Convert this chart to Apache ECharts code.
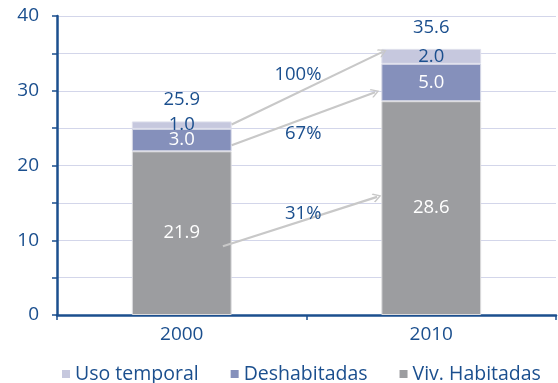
<!DOCTYPE html>
<html>
<head>
<meta charset="utf-8">
<script src="https://cdn.jsdelivr.net/npm/echarts@6/dist/echarts.min.js"></script>
<style>
  html, body { margin: 0; padding: 0; background: #fff; }
  #chart { width: 558px; height: 383px; }
</style>
</head>
<body>
<div id="chart"></div>
<script>
// Viviendas por uso (millones), 2000 y 2010
const years = ['2000', '2010'];
const usoTemporal = [1.0, 2.0];
const deshabitadas = [3.0, 5.0];
const habitadas = [21.9, 28.6];
const yTicks = [0, 10, 20, 30, 40];

// Growth arrows between the two years: [x, y] on a 0..2 category span
const growthLabels = ['100%', '67%', '31%'];
const growthFrom = [[0.70, 25.5], [0.70, 22.7], [0.665, 9.2]];
const growthTo = [[1.305, 35.2], [1.275, 29.8], [1.283, 15.8]];
const growthLabelAt = [[1.06, 32.1], [1.06, 24.2], [1.06, 13.6]];

const totals = years.map((_, i) => +(habitadas[i] + deshabitadas[i] + usoTemporal[i]).toFixed(1));

const BLUE = '#1b4f8e';
const FONT = 'Open Sans';

const chart = echarts.init(document.getElementById('chart'), null, { renderer: 'canvas' });

// open arrowhead drawn as a thin chevron pointing along the line
const chevron = 'path://M0,0 L10,9 L8.4,10.6 L0,3 L-8.4,10.6 L-10,9 Z';

const barBase = {
  type: 'bar',
  stack: 'total',
  barWidth: '40%',
  xAxisIndex: 0,
  yAxisIndex: 0
};

const valueLabel = (color) => ({
  show: true, position: 'inside', color: color, fontSize: 18.5, fontFamily: FONT,
  formatter: p => p.value.toFixed(1)
});

chart.setOption({
  animation: false,
  textStyle: { fontFamily: FONT },
  grid: { left: 57, right: 2, top: 16, bottom: 68, containLabel: false },
  legend: {
    left: 57,
    top: 359,
    icon: 'rect',
    itemWidth: 8,
    itemHeight: 8,
    itemGap: 32,
    itemStyle: { borderWidth: 0 },
    textStyle: { color: BLUE, fontSize: 19.5, fontFamily: FONT },
    data: ['Uso temporal', 'Deshabitadas', 'Viv. Habitadas']
  },
  xAxis: [
    {
      type: 'category',
      data: years,
      axisLine: { lineStyle: { color: BLUE, width: 2.5 } },
      axisTick: { show: true, length: 5, alignWithLabel: false, lineStyle: { color: BLUE, width: 1.5 } },
      axisLabel: { color: BLUE, fontSize: 19, margin: 10, fontFamily: FONT },
      splitLine: { show: false }
    },
    { type: 'value', min: 0, max: 2, show: false }
  ],
  yAxis: [{
    type: 'value',
    min: 0,
    max: 40,
    interval: 5,
    axisLine: { show: true, lineStyle: { color: BLUE, width: 2.5 } },
    axisTick: { show: true, length: 5, lineStyle: { color: BLUE, width: 1.5 } },
    axisLabel: {
      color: BLUE, fontSize: 19, margin: 18, fontFamily: FONT,
      formatter: v => yTicks.indexOf(v) >= 0 ? String(v) : ''
    },
    splitLine: { lineStyle: { color: '#d3d6ea', width: 1.2 } }
  }],
  series: [
    Object.assign({}, barBase, {
      name: 'Viv. Habitadas',
      data: habitadas,
      itemStyle: { color: '#9c9da0', borderColor: '#dcdcde', borderWidth: 1 },
      label: valueLabel('#fff')
    }),
    Object.assign({}, barBase, {
      name: 'Deshabitadas',
      data: deshabitadas,
      itemStyle: { color: '#8590bb', borderColor: '#d6d8e6', borderWidth: 1 },
      label: valueLabel('#fff')
    }),
    Object.assign({}, barBase, {
      name: 'Uso temporal',
      data: usoTemporal,
      itemStyle: { color: '#c6c8de', borderColor: '#dfe0ec', borderWidth: 1 },
      label: valueLabel(BLUE)
    }),
    {
      name: 'total',
      type: 'scatter',
      xAxisIndex: 0,
      yAxisIndex: 0,
      symbolSize: 0,
      itemStyle: { opacity: 1 },
      data: totals,
      label: { show: true, position: 'top', distance: 12, color: BLUE, fontSize: 18.5, fontFamily: FONT, formatter: p => p.value.toFixed(1) },
      silent: true
    },
    {
      name: 'growth',
      type: 'lines',
      coordinateSystem: 'cartesian2d',
      xAxisIndex: 1,
      yAxisIndex: 0,
      symbol: ['none', chevron],
      symbolSize: [15, 9],
      lineStyle: { color: '#c8c8c8', width: 2.2, opacity: 1, curveness: 0 },
      z: 5,
      data: growthFrom.map((p, i) => ({ coords: [p, growthTo[i]] })),
      silent: true
    },
    {
      name: 'growthText',
      type: 'scatter',
      xAxisIndex: 1,
      yAxisIndex: 0,
      symbolSize: 0,
      itemStyle: { opacity: 1 },
      data: growthLabelAt.map((p, i) => ({ value: p, name: growthLabels[i] })),
      label: { show: true, position: 'inside', align: 'right', color: BLUE, fontSize: 18.5, fontFamily: FONT, formatter: p => p.name },
      silent: true,
      z: 6
    }
  ]
});
</script>
</body>
</html>
